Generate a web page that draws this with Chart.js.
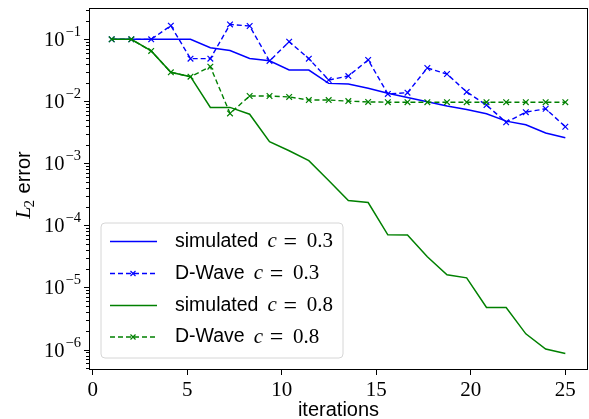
<!DOCTYPE html>
<html>
<head>
<meta charset="utf-8">
<script src="https://cdn.jsdelivr.net/npm/chart.js@4"></script>
<style>
  html, body { margin: 0; padding: 0; background: #fff; }
</style>
</head>
<body>
<canvas id="chart" width="589" height="419"></canvas>
<script>
// iteration index of each run
const iterations = [1, 2.04, 3.09, 4.13, 5.17, 6.22, 7.26, 8.3, 9.35, 10.39, 11.43, 12.48,
    13.52, 14.57, 15.61, 16.65, 17.7, 18.74, 19.78, 20.83, 21.87, 22.91, 23.96, 25];

// L2 error per iteration
const simulated03 = [0.1, 0.1, 0.1, 0.1, 0.1, 0.073, 0.066, 0.049, 0.045, 0.032, 0.032, 0.0195,
    0.019, 0.0163, 0.0135, 0.0115, 0.0099, 0.0084, 0.0074, 0.0063, 0.0048, 0.0042, 0.0031, 0.0026];
const dwave03 = [0.1, 0.1, 0.1, 0.166, 0.0488, 0.0488, 0.174, 0.164, 0.0448, 0.0916, 0.0488, 0.0221,
    0.0256, 0.0465, 0.0132, 0.0138, 0.0345, 0.0276, 0.0142, 0.0087, 0.0046, 0.0067, 0.0076, 0.0039];
const simulated08 = [0.1, 0.1, 0.065, 0.0294, 0.025, 0.008, 0.008, 0.0062, 0.00224, 0.0016, 0.00111, 0.00053,
    0.000252, 0.000234, 0.0000706, 0.00007, 0.0000312, 0.000016, 0.0000143, 0.00000477, 0.00000477,
    0.00000179, 0.00000102, 0.000000865];
const dwave08 = [0.1, 0.1, 0.065, 0.0294, 0.025, 0.0362, 0.0064, 0.0122, 0.0122, 0.0118, 0.0105, 0.0105,
    0.0101, 0.0098, 0.0097, 0.0097, 0.0097, 0.0097, 0.0097, 0.0097, 0.0097, 0.0097, 0.0097, 0.0097];

const xTicks = [0, 5, 10, 15, 20, 25];
const yDecades = [-7, -6, -5, -4, -3, -2, -1, 0];

const legendLabels = [
    { text: 'simulated', c: '0.3' },
    { text: 'D-Wave', c: '0.3' },
    { text: 'simulated', c: '0.8' },
    { text: 'D-Wave', c: '0.8' }
];

const BLUE = '#0000ff';
const GREEN = '#008000';
const SERIF = '"Liberation Serif", "DejaVu Serif", serif';
const SANS = '"Liberation Sans", Arial, sans-serif';

const toPoints = ys => ys.map((y, i) => ({ x: iterations[i], y: y }));

const solid = (label, data, color, order) => ({
    label, data: toPoints(data), borderColor: color, backgroundColor: color,
    borderWidth: 1.5, pointRadius: 0, tension: 0, order
});
const dashed = (label, data, color, order) => ({
    label, data: toPoints(data), borderColor: color, backgroundColor: color,
    borderWidth: 1.4, borderDash: [5, 3], pointStyle: 'crossRot', pointRadius: 4,
    pointBorderWidth: 1.2, pointBorderColor: color, tension: 0, order
});

// draws 10 with a raised exponent, right-aligned at x
function drawPower(ctx, exp, xRight, yMid) {
    const base = '10', sup = exp < 0 ? '\u2212' + Math.abs(exp) : String(exp);
    ctx.font = '20.5px ' + SERIF;
    const wb = ctx.measureText(base).width;
    ctx.font = '14.5px ' + SERIF;
    const ws = ctx.measureText(sup).width;
    ctx.textBaseline = 'middle';
    ctx.textAlign = 'left';
    ctx.font = '20.5px ' + SERIF;
    ctx.fillText(base, xRight - ws - wb - 1, yMid + 1);
    ctx.font = '14.5px ' + SERIF;
    ctx.fillText(sup, xRight - ws, yMid - 7);
}

const axesAndLegend = {
    id: 'axesAndLegend',
    afterDraw(chart) {
        const { ctx, chartArea: a, scales } = chart;
        const ys = scales.y;
        ctx.save();

        // frame
        ctx.strokeStyle = '#000';
        ctx.lineWidth = 1;
        ctx.strokeRect(a.left + 0.5, a.top + 0.5, a.right - a.left - 1, a.bottom - a.top - 1);

        // log ticks, labels on decades
        ctx.fillStyle = '#000';
        yDecades.forEach(e => {
            for (let m = 1; m <= 9; m++) {
                const v = m * Math.pow(10, e);
                if (v < ys.min || v > ys.max) continue;
                const py = Math.round(ys.getPixelForValue(v)) + 0.5;
                const len = m === 1 ? 5 : 3;
                ctx.beginPath();
                ctx.moveTo(a.left, py);
                ctx.lineTo(a.left - len, py);
                ctx.stroke();
                if (m === 1) drawPower(ctx, e, a.left - 8, py);
            }
        });

        // axis titles
        ctx.textAlign = 'center';
        ctx.textBaseline = 'alphabetic';
        ctx.font = '20px ' + SANS;
        ctx.fillText('iterations', (a.left + a.right) / 2, 416);

        ctx.save();
        ctx.translate(30, 185);
        ctx.rotate(-Math.PI / 2);
        ctx.textAlign = 'left';
        ctx.textBaseline = 'alphabetic';
        ctx.font = 'italic 22px ' + SERIF;
        const wL = ctx.measureText('L').width;
        ctx.font = '15px ' + SERIF;
        const w2 = ctx.measureText('2').width;
        ctx.font = '20px ' + SANS;
        const wE = ctx.measureText(' error').width;
        const x0 = -(wL + w2 + wE) / 2;
        ctx.font = 'italic 22px ' + SERIF;
        ctx.fillText('L', x0, 0);
        ctx.font = '15px ' + SERIF;
        ctx.fillText('2', x0 + wL - 1, 4);
        ctx.font = '20px ' + SANS;
        ctx.fillText(' error', x0 + wL + w2, 0);
        ctx.restore();

        // legend box
        const bx = 101, by = 223, bw = 242, bh = 135, r = 4;
        ctx.beginPath();
        ctx.moveTo(bx + r, by);
        ctx.arcTo(bx + bw, by, bx + bw, by + bh, r);
        ctx.arcTo(bx + bw, by + bh, bx, by + bh, r);
        ctx.arcTo(bx, by + bh, bx, by, r);
        ctx.arcTo(bx, by, bx + bw, by, r);
        ctx.closePath();
        ctx.fillStyle = 'rgba(255,255,255,0.8)';
        ctx.fill();
        ctx.strokeStyle = '#d6d6d6';
        ctx.lineWidth = 1;
        ctx.stroke();

        const rowY = [241.5, 273.5, 305.5, 337];
        chart.data.datasets.forEach((ds, i) => {
            const y = rowY[i];
            ctx.strokeStyle = ds.borderColor;
            ctx.lineWidth = ds.borderWidth;
            ctx.setLineDash(ds.borderDash || []);
            ctx.beginPath();
            ctx.moveTo(110, y);
            ctx.lineTo(157, y);
            ctx.stroke();
            ctx.setLineDash([]);
            if (ds.pointRadius) {
                const s = 2.5;
                ctx.lineWidth = 1.2;
                ctx.beginPath();
                ctx.moveTo(133 - s, y - s); ctx.lineTo(133 + s, y + s);
                ctx.moveTo(133 - s, y + s); ctx.lineTo(133 + s, y - s);
                ctx.stroke();
            }
            const lab = legendLabels[i];
            ctx.fillStyle = '#000';
            ctx.textAlign = 'left';
            ctx.textBaseline = 'middle';
            let tx = 175;
            ctx.font = '19.5px ' + SANS;
            ctx.fillText(lab.text, tx, y);
            tx += ctx.measureText(lab.text).width + 9;
            ctx.font = 'italic 21px ' + SERIF;
            ctx.fillText('c', tx, y);
            tx += ctx.measureText('c').width + 6;
            ctx.font = '24px ' + SERIF;
            ctx.textAlign = 'center';
            ctx.fillText('=', tx + 7.5, y + 1);
            tx += 15 + 9;
            ctx.textAlign = 'left';
            ctx.font = '21px ' + SERIF;
            ctx.fillText(lab.c, tx, y);
        });

        ctx.restore();
    }
};

new Chart(document.getElementById('chart'), {
    type: 'line',
    data: {
        datasets: [
            solid('simulated c = 0.3', simulated03, BLUE, 4),
            dashed('D-Wave c = 0.3', dwave03, BLUE, 3),
            solid('simulated c = 0.8', simulated08, GREEN, 2),
            dashed('D-Wave c = 0.8', dwave08, GREEN, 1)
        ]
    },
    options: {
        responsive: false,
        animation: false,
        devicePixelRatio: 1,
        layout: { autoPadding: false, padding: { top: 8, right: 1, left: 0, bottom: 0 } },
        plugins: { legend: { display: false }, tooltip: { enabled: false } },
        scales: {
            x: {
                type: 'linear',
                min: -0.2,
                max: 26.2,
                afterBuildTicks: s => { s.ticks = xTicks.map(v => ({ value: v })); },
                afterFit: s => { s.height = 49; s.paddingLeft = 0; s.paddingRight = 0; },
                ticks: {
                    color: '#000',
                    padding: 3,
                    font: { family: SERIF, size: 21 },
                    maxRotation: 0
                },
                grid: { drawOnChartArea: false, color: '#000', tickLength: 5 },
                border: { display: false }
            },
            y: {
                type: 'logarithmic',
                min: Math.pow(10, -6.33),
                max: Math.pow(10, -0.495),
                afterFit: s => { s.width = 89; s.paddingTop = 0; s.paddingBottom = 0; },
                ticks: { display: false },
                grid: { display: false },
                border: { display: false }
            }
        }
    },
    plugins: [axesAndLegend]
});
</script>
</body>
</html>
